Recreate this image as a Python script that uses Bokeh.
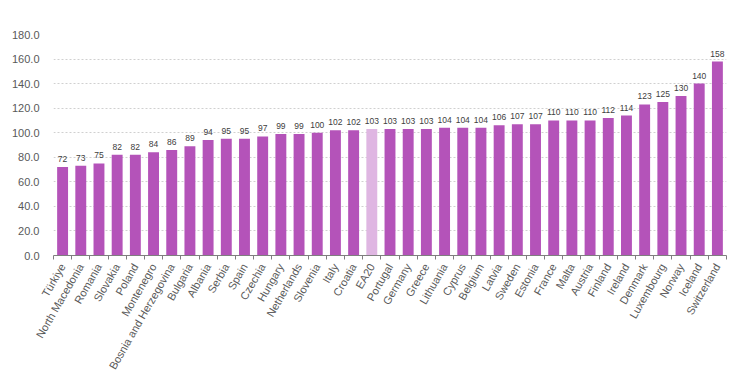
import numpy as np
from bokeh.plotting import figure
from bokeh.models import ColumnDataSource, FixedTicker, Range1d, CustomJSTickFormatter
from bokeh.core.properties import value
from bokeh.embed import file_html
from bokeh.resources import INLINE

countries = ["Türkiye", "North Macedonia", "Romania", "Slovakia", "Poland", "Montenegro",
             "Bosnia and Herzegovina", "Bulgaria", "Albania", "Serbia", "Spain", "Czechia",
             "Hungary", "Netherlands", "Slovenia", "Italy", "Croatia", "EA20", "Portugal",
             "Germany", "Greece", "Lithuania", "Cyprus", "Belgium", "Latvia", "Sweden",
             "Estonia", "France", "Malta", "Austria", "Finland", "Ireland", "Denmark",
             "Luxembourg", "Norway", "Iceland", "Switzerland"]
values = [72, 73, 75, 82, 82, 84, 86, 89, 94, 95, 95, 97, 99, 99, 100, 102, 102, 103, 103,
          103, 103, 104, 104, 104, 106, 107, 107, 110, 110, 110, 112, 114, 123, 125, 130,
          140, 158]
highlight = "EA20"
y_ticks = [0, 20, 40, 60, 80, 100, 120, 140, 160, 180]

FONT = "Liberation Sans"
BAR = "#B453B9"
BAR_LIGHT = "#DFB6E2"

n = len(countries)
xs = [i + 0.5 for i in range(n)]
colors = [BAR_LIGHT if c == highlight else BAR for c in countries]
src = ColumnDataSource(dict(x=xs, top=values, color=colors,
                            label=[str(v) for v in values]))

p = figure(width=732, height=377, output_backend="svg", toolbar_location=None,
           x_range=Range1d(0, n), y_range=Range1d(0, 180),
           min_border_left=53, min_border_right=6, min_border_top=34,
           min_border_bottom=121)
p.outline_line_color = None
p.background_fill_color = "white"
p.border_fill_color = "white"

p.vbar(x="x", top="top", width=0.6, color="color", line_color=None, source=src)
p.text(x="x", y="top", text="label", source=src, text_align="center",
       text_baseline="bottom", y_offset=-5, text_font=value(FONT),
       text_font_size="8.5px", text_color="#404040")

# y axis
p.yaxis.ticker = FixedTicker(ticks=y_ticks)
p.yaxis.formatter = CustomJSTickFormatter(code="return tick.toFixed(1);")
p.yaxis.axis_line_color = None
p.yaxis.major_tick_line_color = None
p.yaxis.minor_tick_line_color = None
p.yaxis.major_label_text_font = FONT
p.yaxis.major_label_text_font_size = "11px"
p.yaxis.major_label_text_color = "#595959"
p.yaxis.major_label_standoff = 8

p.ygrid.grid_line_color = "#d0d0d0"
p.ygrid.grid_line_dash = "2 2"
p.xgrid.grid_line_color = None

# x axis: labels at centers, ticks at category boundaries
p.xaxis.ticker = FixedTicker(ticks=xs, minor_ticks=list(range(n + 1)))
p.xaxis.major_label_overrides = {x: c for x, c in zip(xs, countries)}
p.xaxis.major_label_orientation = np.pi / 3
p.xaxis.axis_line_color = "#7f7f7f"
p.xaxis.major_tick_line_color = None
p.xaxis.minor_tick_line_color = "#7f7f7f"
p.xaxis.minor_tick_in = 0
p.xaxis.minor_tick_out = 4
p.xaxis.major_label_text_font = FONT
p.xaxis.major_label_text_font_size = "11px"
p.xaxis.major_label_text_color = "#595959"
p.xaxis.major_label_standoff = 3

open("out.html", "w").write(file_html(p, INLINE))
